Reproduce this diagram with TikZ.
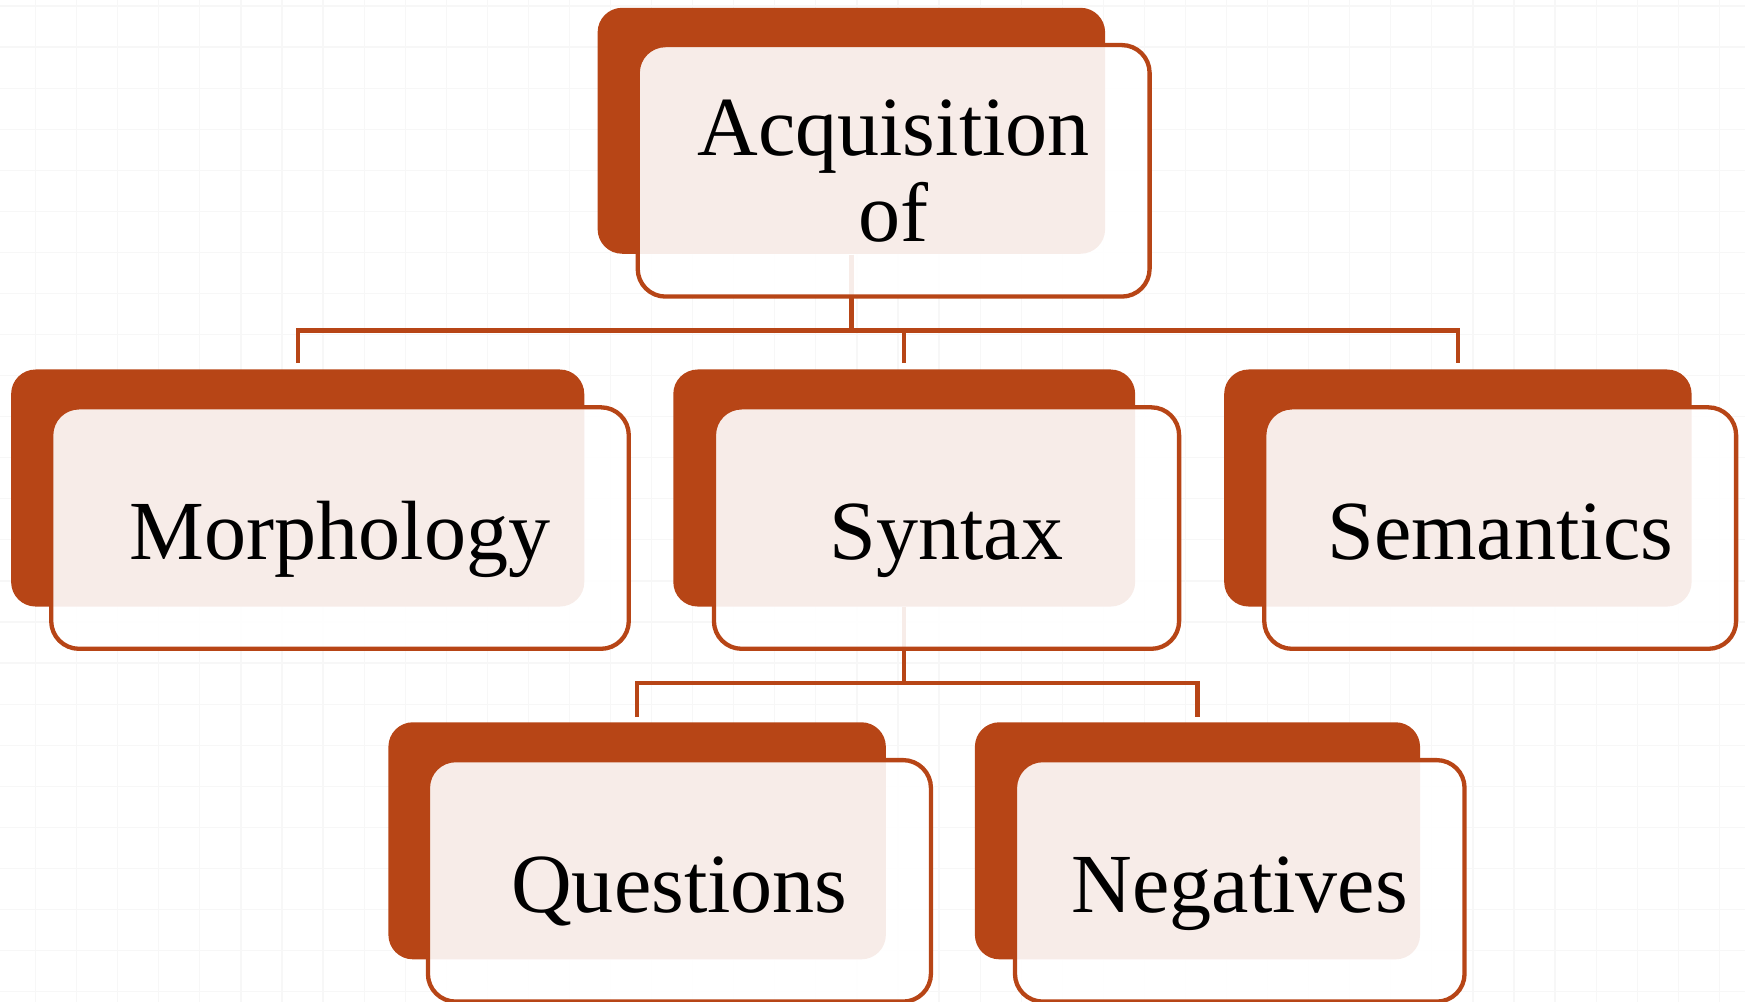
\documentclass[tikz,border=0pt]{standalone}
\usepackage{fontspec}
\setmainfont{Liberation Serif}
\definecolor{rust}{RGB}{183,69,22}
\tikzset{
  backbox/.style={rectangle, rounded corners=0.22cm, fill=rust, minimum height=2.13cm, inner sep=0pt},
  frontbox/.style={rectangle, rounded corners=0.25cm, draw=rust, line width=1.1pt, fill=white, fill opacity=0.9, text opacity=1, minimum height=2.17cm, inner sep=0pt, font=\fontsize{21.5}{21.9}\selectfont},
  oneline/.style={text height=0.72cm, text depth=0.15cm},
  link/.style={draw=rust, line width=1.1pt},
  gridline/.style={draw=black!3, line width=0.3pt}
}
\begin{document}
\begin{tikzpicture}
            \useasboundingbox (0,0) rectangle (15.68,-9);
            % faint background grid
            \foreach \i in {0,...,41} \draw[gridline] (0.32+\i*0.369,0) -- (0.32+\i*0.369,-9);
            \foreach \j in {0,...,24} \draw[gridline] (0,-0.054-\j*0.369) -- (15.68,-0.054-\j*0.369);

            % dark back plates
            \node[backbox, minimum width=4.56cm, minimum height=2.21cm] (top-b) at (7.65,-1.175) {};
            \node[backbox, minimum width=5.15cm] (morph-b) at (2.675,-4.385) {};
            \node[backbox, minimum width=4.15cm] (syn-b) at (8.125,-4.385) {};
            \node[backbox, minimum width=4.20cm] (sem-b) at (13.10,-4.385) {};
            \node[backbox, minimum width=4.47cm] (quest-b) at (5.725,-7.555) {};
            \node[backbox, minimum width=4.00cm] (neg-b) at (10.76,-7.555) {};

            % connectors
            \coordinate (bus1) at (7.65,-2.97);
            \coordinate (bus2) at (8.125,-6.14);
            \draw[link] (top-b.south) -- (bus1);
            \draw[link] ([yshift=0.05cm]morph-b.north) |- (bus1) -| ([yshift=0.05cm]sem-b.north);
            \draw[link] ([yshift=0.05cm]syn-b.north) -- (syn-b.north |- bus1);
            \draw[link] (syn-b.south) -- (bus2);
            \draw[link] ([yshift=0.04cm]quest-b.north) |- (bus2) -| ([yshift=0.04cm]neg-b.north);

            % front boxes with the labels
            \node[frontbox, align=center, minimum width=4.60cm, minimum height=2.26cm] (top) at ([shift={(0.38,-0.36)}]top-b.center) {Acquisition\\of};
            \node[frontbox, oneline, minimum width=5.19cm] (morph) at ([shift={(0.38,-0.36)}]morph-b.center) {Morphology};
            \node[frontbox, oneline, minimum width=4.18cm] (syn) at ([shift={(0.38,-0.36)}]syn-b.center) {Syntax};
            \node[frontbox, oneline, minimum width=4.24cm] (sem) at ([shift={(0.38,-0.36)}]sem-b.center) {Semantics};
            \node[frontbox, oneline, minimum width=4.52cm] (quest) at ([shift={(0.38,-0.36)}]quest-b.center) {Questions};
            \node[frontbox, oneline, minimum width=4.04cm] (neg) at ([shift={(0.38,-0.36)}]neg-b.center) {Negatives};
\end{tikzpicture}
\end{document}
